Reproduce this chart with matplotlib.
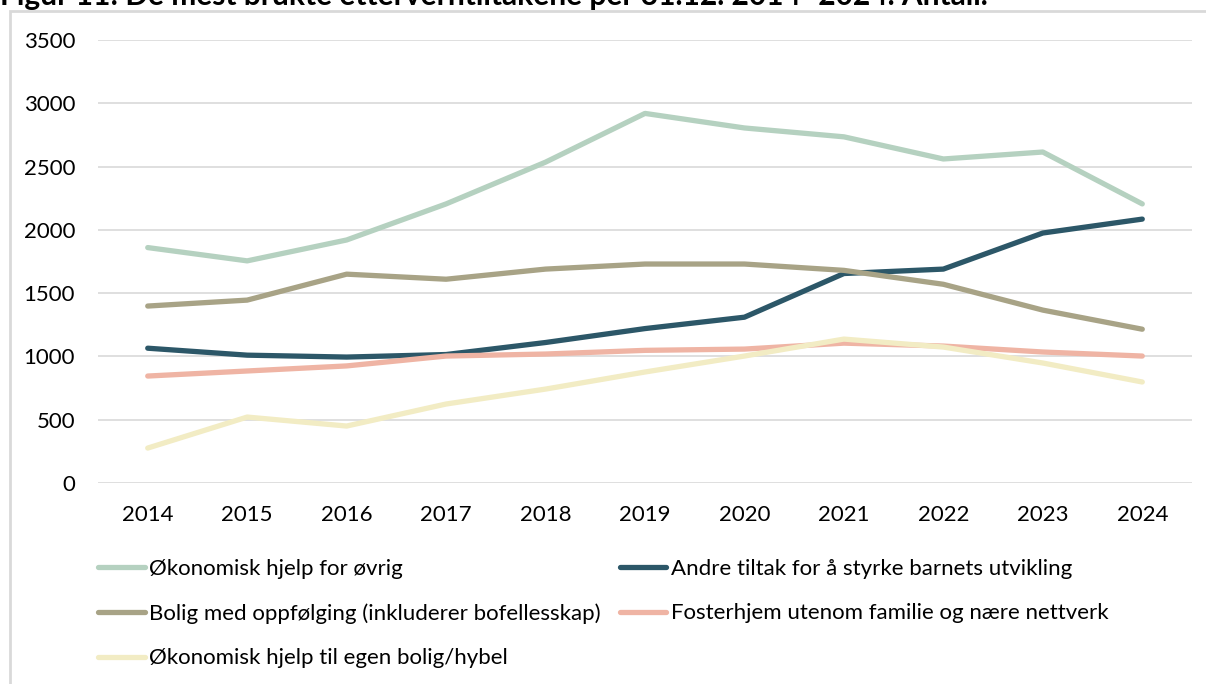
import matplotlib
matplotlib.use('Agg')
import matplotlib.pyplot as plt
from matplotlib.patches import Rectangle

#Data
years = [2014, 2015, 2016, 2017, 2018, 2019, 2020, 2021, 2022, 2023, 2024]
okonomisk_ovrig = [1860, 1755, 1920, 2205, 2535, 2920, 2805, 2735, 2560, 2615, 2205]
andre_tiltak = [1065, 1010, 995, 1015, 1110, 1220, 1310, 1655, 1690, 1975, 2085]
bolig_oppfolging = [1398, 1445, 1650, 1610, 1690, 1730, 1730, 1680, 1570, 1366, 1215]
fosterhjem = [845, 885, 925, 1003, 1019, 1048, 1058, 1105, 1082, 1035, 1003]
okonomisk_bolig = [276, 521, 450, 624, 742, 877, 1003, 1137, 1074, 948, 798]

labels = ['Økonomisk hjelp for øvrig',
          'Andre tiltak for å styrke barnets utvikling',
          'Bolig med oppfølging (inkluderer bofellesskap)',
          'Fosterhjem utenom familie og nære nettverk',
          'Økonomisk hjelp til egen bolig/hybel']
colors = ['#b5d1c0', '#2c5768', '#a8a386', '#efb4a4', '#f2ecc4']

plt.rcParams['font.family'] = ['Lato', 'DejaVu Sans']
FS = 16

fig = plt.figure(figsize=(12.06, 6.84), dpi=100)
W, H = 1206, 684

#outer frame (light gray, runs off the right and bottom edge)
fig.patches.append(Rectangle((10 / W, -0.05), 1.1, 1 - 11 / H + 0.05,
                             transform=fig.transFigure, fill=False,
                             edgecolor='#d9d9d9', linewidth=2))

#title, cut off at the top like in the source
fig.text(0, 1 - 5 / H, 'Figur 11: De mest brukte etterverntiltakene per 31.12. 2014–2024. Antall.',
         fontsize=21.5, fontweight='bold', va='baseline', ha='left')

ax = fig.add_axes([98 / W, 1 - 483 / H, (1192 - 98) / W, (483 - 40) / H])
series = [okonomisk_ovrig, andre_tiltak, bolig_oppfolging, fosterhjem, okonomisk_bolig]
lines = []
for vals, lab, c in zip(series, labels, colors):
    ln, = ax.plot(years, vals, color=c, linewidth=3.8, solid_capstyle='round',
                  solid_joinstyle='round', label=lab)
    lines.append(ln)

ax.set_xlim(2013.5, 2024.5)
ax.set_ylim(0, 3500)
ax.set_yticks(range(0, 3501, 500))
ax.set_xticks(years)
ax.grid(axis='y', color='#d9d9d9', linewidth=1.2)
ax.set_axisbelow(True)
for s in ax.spines.values():
    s.set_visible(False)
ax.tick_params(length=0, labelsize=FS)
ax.tick_params(axis='x', pad=16)
ax.tick_params(axis='y', pad=16.5)

#legend: two columns, entries read across rows
order = [0, 2, 4, 1, 3]
fig.legend([lines[i] for i in order], [labels[i] for i in order],
           loc='upper left', bbox_to_anchor=(78 / W, 1 - 539 / H), ncol=2,
           frameon=False, fontsize=FS, handlelength=2.1, handletextpad=0.2,
           columnspacing=0.85, labelspacing=1.1)

fig.savefig('out.png', dpi=100)
